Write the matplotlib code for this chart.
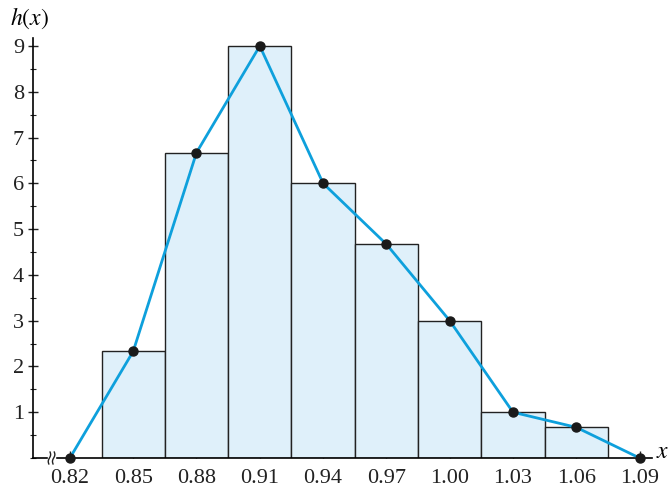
import numpy as np
import matplotlib.pyplot as plt
from matplotlib.ticker import MultipleLocator

# data
centers = [0.85, 0.88, 0.91, 0.94, 0.97, 1.00, 1.03, 1.06]
heights = [2.33, 6.67, 9.0, 6.0, 4.67, 3.0, 1.0, 0.67]
poly_x = [0.82] + centers + [1.09]
poly_y = [0.0] + heights + [0.0]
xticks = [0.82, 0.85, 0.88, 0.91, 0.94, 0.97, 1.00, 1.03, 1.06, 1.09]
xticklabels = ["0.82", "0.85", "0.88", "0.91", "0.94", "0.97", "1.00", "1.03", "1.06", "1.09"]
yticks = [1, 2, 3, 4, 5, 6, 7, 8, 9]

plt.rcParams['font.family'] = ['Liberation Serif', 'DejaVu Serif']
plt.rcParams['mathtext.fontset'] = 'stix'

fig = plt.figure(figsize=(6.69, 4.91), dpi=100)
ax = fig.add_axes([0.0493, 0.0672, 0.925, 0.855])

ax.bar(centers, heights, width=0.03, color="#dff0fa", edgecolor="#222222", linewidth=1.0, zorder=2)
ax.plot(poly_x, poly_y, color="#0ea0dc", linewidth=2.0, zorder=3, clip_on=False)
ax.plot(poly_x, poly_y, "o", color="#1a1a1a", markersize=6.5, zorder=7, clip_on=False)

ax.set_xlim(0.8025, 1.0958)
ax.set_ylim(0, 9.17)

for s in ["top", "right"]:
    ax.spines[s].set_visible(False)
ax.spines["left"].set_linewidth(1.2)
ax.spines["bottom"].set_linewidth(1.2)

ax.set_xticks(xticks)
ax.set_xticklabels(xticklabels)
ax.set_yticks(yticks)
ax.yaxis.set_minor_locator(MultipleLocator(0.5))
ax.tick_params(axis="y", which="major", direction="inout", length=7, width=1.0,
               labelsize=16, colors="#222222", pad=3)
ax.tick_params(axis="x", which="major", direction="in", length=5, width=1.0,
               labelsize=16, colors="#222222", pad=8)
ax.tick_params(axis="y", which="minor", direction="inout", length=4, width=0.8, colors="#222222")

# axis labels
ax.text(-0.005, 1.018, "$h(x)$", transform=ax.transAxes, fontsize=17, ha="center", va="bottom")
ax.text(1.017, 0.012, "$x$", transform=ax.transAxes, fontsize=17, ha="center", va="center")

# axis break mark
bx = 0.8113
t = np.linspace(-1, 1, 40)
ax.fill_between([bx - 0.0016, bx + 0.0016], -0.08, 0.08, color="white", zorder=5, clip_on=False)
for off in (-0.0010, 0.0010):
    ax.plot(bx + off + 0.0004 * np.sin(t * np.pi) + 0.0003 * t,
            0.13 * t,
            color="#222222", linewidth=1.0, zorder=6, clip_on=False)

fig.savefig("out.png", dpi=100)
